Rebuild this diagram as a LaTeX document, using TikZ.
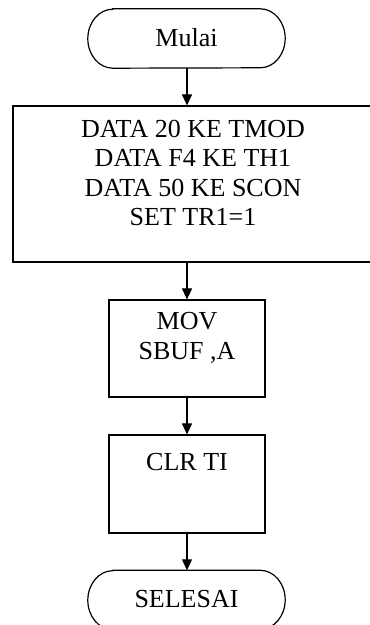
\documentclass[tikz,border=0pt]{standalone}
\usepackage{fontspec}
\setmainfont{Liberation Serif}
\usetikzlibrary{arrows.meta}
\begin{document}
\begin{tikzpicture}[x=1pt,y=1pt,
  line/.style={line width=1.2pt,black},
  procbox/.style={line, draw, fill=none, inner sep=0pt},
  termbox/.style={inner sep=0pt, minimum width=197pt, minimum height=59pt},
  txt/.style={font=\fontsize{26}{29.5}\selectfont, align=center, inner sep=0pt},
  arr/.style={line, -{Triangle[length=11pt,width=10pt]}}
]
\useasboundingbox (0,0) rectangle (370,625);
% terminator Mulai
\node[termbox] (mulai) at (186.5,586.5) {};
\node[txt] (tmulai) at (186.5,587) {Mulai};
\draw[line] ([xshift=25pt]mulai.north west) -- ([xshift=-25pt]mulai.north east)
  arc[start angle=90,end angle=-90,x radius=25pt,y radius=29.5pt]
  -- ([xshift=25pt]mulai.south west)
  arc[start angle=270,end angle=90,x radius=25pt,y radius=29.5pt] -- cycle;
% box 1 (right edge lies beyond the picture)
\node[procbox, minimum width=380pt, minimum height=156pt] (b1) at (203,441) {};
\node[txt] (t1) at (193,452) {DATA 20 KE TMOD\\DATA F4 KE TH1\\DATA 50 KE SCON\\SET TR1=1};
% box 2
\node[procbox, minimum width=156pt, minimum height=97pt] (b2) at (187,276.5) {};
\node[txt] (t2) at (187,287) {MOV\\SBUF ,A};
% box 3
\node[procbox, minimum width=156pt, minimum height=98pt] (b3) at (187,141) {};
\node[txt] (t3) at (187,163) {CLR TI};
% terminator Selesai
\node[termbox] (selesai) at (186.5,25) {};
\node[txt] (tselesai) at (186.5,26) {SELESAI};
\draw[line] ([xshift=25pt]selesai.north west) -- ([xshift=-25pt]selesai.north east)
  arc[start angle=90,end angle=-90,x radius=25pt,y radius=29.5pt]
  -- ([xshift=25pt]selesai.south west)
  arc[start angle=270,end angle=90,x radius=25pt,y radius=29.5pt] -- cycle;
% arrows
\draw[arr] (mulai.south -| b2.north) -- (b1.north -| b2.north);
\draw[arr] (b1.south -| b2.north) -- (b2.north);
\draw[arr] (b2.south) -- (b3.north);
\draw[arr] (b3.south) -- (selesai.north -| b3.south);
\end{tikzpicture}
\end{document}
